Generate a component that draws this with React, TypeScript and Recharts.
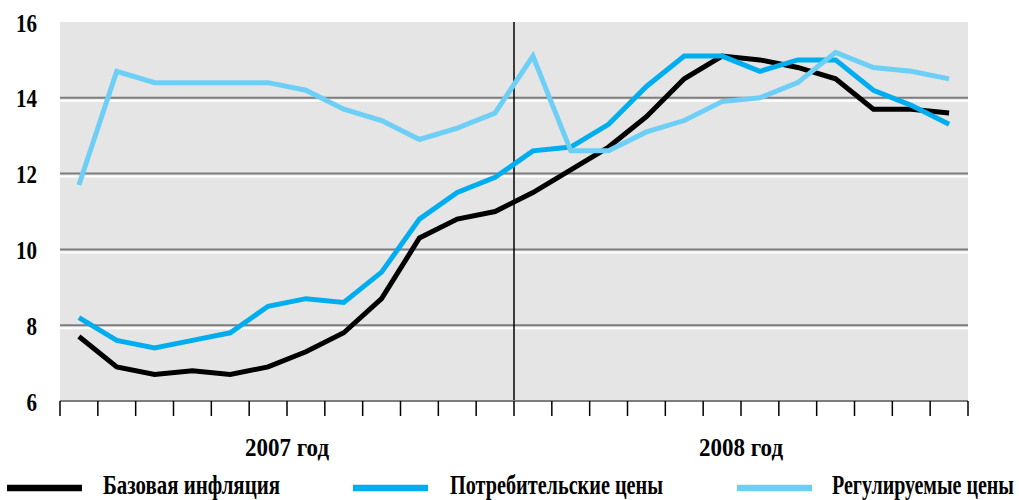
import React from 'react';
import { LineChart, Line, XAxis, YAxis, CartesianGrid, ReferenceLine } from 'recharts';

// 24 months, Jan 2007 .. Dec 2008
const months = [
  '2007-01', '2007-02', '2007-03', '2007-04', '2007-05', '2007-06',
  '2007-07', '2007-08', '2007-09', '2007-10', '2007-11', '2007-12',
  '2008-01', '2008-02', '2008-03', '2008-04', '2008-05', '2008-06',
  '2008-07', '2008-08', '2008-09', '2008-10', '2008-11', '2008-12',
];

const baseInflation = [
  7.7, 6.9, 6.7, 6.8, 6.7, 6.9, 7.3, 7.8, 8.7, 10.3, 10.8, 11.0,
  11.5, 12.1, 12.7, 13.5, 14.5, 15.1, 15.0, 14.8, 14.5, 13.7, 13.7, 13.6,
];
const consumerPrices = [
  8.2, 7.6, 7.4, 7.6, 7.8, 8.5, 8.7, 8.6, 9.4, 10.8, 11.5, 11.9,
  12.6, 12.7, 13.3, 14.3, 15.1, 15.1, 14.7, 15.0, 15.0, 14.2, 13.8, 13.3,
];
const regulatedPrices = [
  11.7, 14.7, 14.4, 14.4, 14.4, 14.4, 14.2, 13.7, 13.4, 12.9, 13.2, 13.6,
  15.1, 12.6, 12.6, 13.1, 13.4, 13.9, 14.0, 14.4, 15.2, 14.8, 14.7, 14.5,
];

const yTicks = [6, 8, 10, 12, 14, 16];
const monthBoundaries = [
  0, 1, 2, 3, 4, 5, 6, 7, 8, 9, 10, 11, 12,
  13, 14, 15, 16, 17, 18, 19, 20, 21, 22, 23, 24,
];
const yearTicks = [6, 18];
const yearLabels = ['2007 год', '2008 год'];
const yearSplit = 12;

const seriesLabels = ['Базовая инфляция', 'Потребительские цены', 'Регулируемые цены'];
const seriesKeys = ['base', 'consumer', 'regulated'];
const seriesColors = ['#000000', '#00aeef', '#6dcff6'];

// x is the month's band centre on a 0..24 numeric axis
const data = months.map((m, i) => ({
  month: m,
  x: i + 0.5,
  base: baseInflation[i],
  consumer: consumerPrices[i],
  regulated: regulatedPrices[i],
}));

const W = 1019;
const H = 500;
const PLOT_TOP = 22;
const PLOT_BOTTOM = 401;
const FONT = '"Liberation Serif", "DejaVu Serif", serif';
const SQUEEZE = 0.72; // horizontal squeeze to mimic the condensed face

// gray grid line with a thin white highlight just under it
const GridRow = (props: any) => {
  const { x1, x2, y1 } = props;
  if (y1 <= PLOT_TOP + 1 || y1 >= PLOT_BOTTOM - 1) return <g key={props.key} />;
  return (
    <g key={props.key}>
      <line x1={x1} x2={x2} y1={y1} y2={y1} stroke="#7d7d7d" strokeWidth={2} />
      <line x1={x1} x2={x2} y1={y1 + 3} y2={y1 + 3} stroke="#ffffff" strokeWidth={2} />
    </g>
  );
};

const YTick = (props: any) => {
  const { x, y, payload, anchor } = props;
  const label = String(payload.value);
  return (
    <text
      x={x}
      y={y + 9.5}
      textAnchor={anchor}
      fontFamily={FONT}
      fontWeight="bold"
      fontSize={25}
      fill="#000"
      textLength={label.length * 10.5}
      lengthAdjust="spacingAndGlyphs"
    >
      {label}
    </text>
  );
};

const XTick = (props: any) => {
  const { x, y, payload } = props;
  const idx = yearTicks.indexOf(payload.value);
  if (idx < 0) return <g />;
  return (
    <text
      x={x}
      y={y + 38}
      textAnchor="middle"
      fontFamily={FONT}
      fontWeight="bold"
      fontSize={26}
      fill="#000"
      textLength={84}
      lengthAdjust="spacingAndGlyphs"
    >
      {yearLabels[idx]}
    </text>
  );
};

// legend layout (swatch start, text start, text width)
const legendSwatchX = [7, 353, 737];
const legendTextX = [103, 450, 832];
const legendTextW = [177, 213, 182];

const App: React.FC = () => {
  return (
    <div style={{ position: 'absolute', left: 0, top: 0, width: W, height: H, background: '#fff' }}>
      <LineChart width={W} height={H} data={data} margin={{ top: PLOT_TOP, right: 0, bottom: 0, left: 0 }}>
        <CartesianGrid
          yAxisId="left"
          vertical={false}
          horizontal={GridRow}
          fill="#e5e5e5"
          fillOpacity={1}
        />
        <XAxis
          dataKey="x"
          type="number"
          domain={[0, 24]}
          ticks={monthBoundaries}
          interval={0}
          height={H - PLOT_BOTTOM}
          axisLine={{ stroke: '#7d7d7d', strokeWidth: 2 }}
          tickLine={{ stroke: '#000', strokeWidth: 1.5 }}
          tickSize={15}
          tickMargin={2}
          tick={<XTick />}
        />
        <YAxis
          yAxisId="left"
          orientation="left"
          domain={[6, 16]}
          ticks={yTicks}
          width={60}
          axisLine={false}
          tickLine={false}
          tickSize={0}
          tickMargin={23}
          tick={<YTick anchor="end" />}
        />
        <YAxis
          yAxisId="right"
          orientation="right"
          domain={[6, 16]}
          ticks={yTicks}
          width={51}
          axisLine={false}
          tickLine={false}
          tickSize={0}
          tickMargin={24}
          tick={<YTick anchor="start" />}
        />
        <ReferenceLine yAxisId="left" x={yearSplit} stroke="#000" strokeWidth={1.5} />
        {seriesKeys.map((k, i) => (
          <Line
            key={k}
            yAxisId="left"
            type="linear"
            dataKey={k}
            stroke={seriesColors[i]}
            strokeWidth={5}
            strokeLinejoin="miter"
            dot={false}
            activeDot={false}
            isAnimationActive={false}
          />
        ))}
      </LineChart>

      {/* legend row */}
      <svg width={W} height={40} style={{ position: 'absolute', left: 0, top: 460 }}>
        {seriesLabels.map((label, i) => (
          <g key={label}>
            <line
              x1={legendSwatchX[i]}
              x2={legendSwatchX[i] + 75}
              y1={28}
              y2={28}
              stroke={seriesColors[i]}
              strokeWidth={6.5}
            />
            <g transform={`translate(${legendTextX[i]}, 33.5) scale(${SQUEEZE}, 1)`}>
              <text
                x={0}
                y={0}
                fontFamily={FONT}
                fontWeight="bold"
                fontSize={27}
                fill="#000"
                textLength={legendTextW[i] / SQUEEZE}
                lengthAdjust="spacingAndGlyphs"
              >
                {label}
              </text>
            </g>
          </g>
        ))}
      </svg>
    </div>
  );
};

export default App;
